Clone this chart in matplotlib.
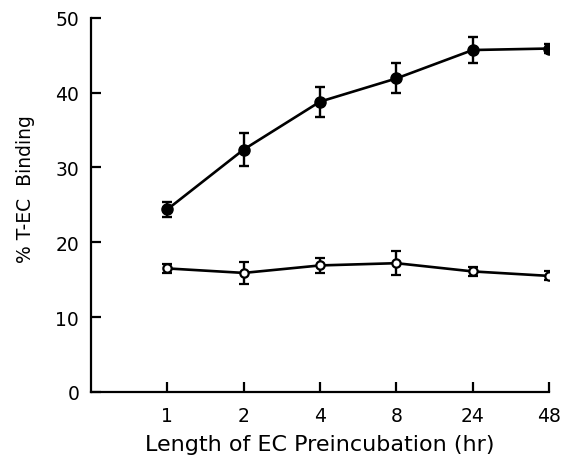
import numpy as np
import matplotlib.pyplot as plt

plt.rcParams['font.family'] = ['DejaVu Sans']

# preincubation times (hr), evenly spaced categories
hours = ['1', '2', '4', '8', '24', '48']

# filled circles
filled = [24.4, 32.4, 38.8, 41.9, 45.7, 45.9]
filled_err = [1.0, 2.2, 2.0, 2.0, 1.7, 0.6]

# open circles
opened = [16.5, 15.9, 16.9, 17.2, 16.1, 15.5]
opened_err = [0.55, 1.5, 1.05, 1.6, 0.6, 0.6]

x = np.arange(1, len(hours) + 1)

fig = plt.figure(figsize=(5.62, 4.60), dpi=100)
ax = fig.add_axes([0.162, 0.146, 0.815, 0.813])

ax.errorbar(x, filled, yerr=filled_err, color='black', lw=1.9,
            marker='o', ms=8, mfc='black', mec='black',
            capsize=3.6, elinewidth=1.7, capthick=1.7)
ax.errorbar(x, opened, yerr=opened_err, color='black', lw=1.9,
            marker='o', ms=6, mfc='white', mec='black', mew=1.6,
            capsize=3.6, elinewidth=1.7, capthick=1.7)

ax.set_xlim(0, 6)
ax.set_ylim(0, 50)
ax.set_xticks(x)
ax.set_xticklabels(hours)
ax.set_yticks([0, 10, 20, 30, 40, 50])

for s in ['top', 'right']:
    ax.spines[s].set_visible(False)
for s in ['left', 'bottom']:
    ax.spines[s].set_linewidth(1.6)

ax.tick_params(direction='in', length=7, width=1.6, labelsize=13.5, pad=10)
ax.tick_params(axis='y', pad=8.5)

ax.set_xlabel('Length of EC Preincubation (hr)', fontsize=16, labelpad=7)
ax.set_ylabel('% T-EC  Binding', fontsize=13.5)
ax.yaxis.set_label_coords(-0.122, 0.545)

plt.savefig('out.png', dpi=100)
